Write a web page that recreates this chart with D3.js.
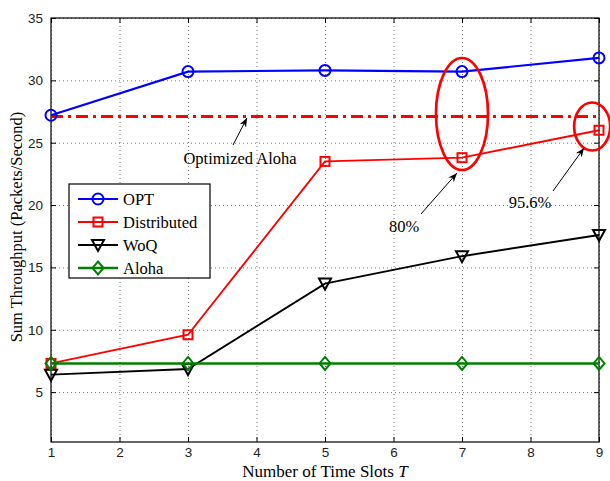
<!DOCTYPE html>
<html>
<head>
<meta charset="utf-8">
<script src="https://cdn.jsdelivr.net/npm/d3@7"></script>
<style>
  body { margin: 0; background: #fff; }
  .tick text { font-family: "Liberation Sans", Arial, sans-serif; font-size: 13.5px; fill: #222; }
  .grid line { stroke: #555; stroke-dasharray: 1,3; stroke-width: 0.8; }
  .grid path { display: none; }
</style>
</head>
<body>
<script>
// data
var slots       = [1, 3, 5, 7, 9];
var opt         = [27.2, 30.7, 30.8, 30.7, 31.8];
var distributed = [7.3, 9.6, 23.5, 23.8, 26.0];
var woq         = [6.4, 6.85, 13.7, 15.9, 17.6];
var aloha       = [7.3, 7.3, 7.3, 7.3, 7.3];
var optAloha    = 27.1;
var xTicks      = [1, 2, 3, 4, 5, 6, 7, 8, 9];
var yTicks      = [5, 10, 15, 20, 25, 30, 35];

var margin = {left: 51, top: 18, right: 11, bottom: 39};
var width  = 610 - margin.left - margin.right,
    height = 481 - margin.top - margin.bottom;
var serif = "'Liberation Serif', 'Times New Roman', serif";

var x = d3.scaleLinear().domain([1, 9]).range([0, width]);
var y = d3.scaleLinear().domain([1, 35]).range([height, 0]);

var svg = d3.select("body").append("svg")
    .attr("width", 610).attr("height", 481)
  .append("g")
    .attr("transform", "translate(" + margin.left + "," + margin.top + ")");

// grid lines
svg.append("g").attr("class", "grid")
    .call(d3.axisBottom(x).tickValues(xTicks).tickFormat("").tickSize(height));
svg.append("g").attr("class", "grid")
    .call(d3.axisLeft(y).tickValues(yTicks).tickFormat("").tickSize(-width));

// axes (ticks inward, box like matlab)
function styleAxis(g) {
    g.select(".domain").remove();
    g.selectAll(".tick line").attr("stroke", "#000");
}
svg.append("g").attr("transform", "translate(0," + height + ")")
    .call(d3.axisBottom(x).tickValues(xTicks).tickSize(-5).tickPadding(5).tickFormat(d3.format("d")))
    .call(styleAxis);
svg.append("g")
    .call(d3.axisLeft(y).tickValues(yTicks).tickSize(-5).tickPadding(8).tickFormat(d3.format("d")))
    .call(styleAxis);
svg.append("g")
    .call(d3.axisTop(x).tickValues(xTicks).tickSize(-5).tickFormat(""))
    .call(styleAxis);
svg.append("g").attr("transform", "translate(" + width + ",0)")
    .call(d3.axisRight(y).tickValues(yTicks).tickSize(-5).tickFormat(""))
    .call(styleAxis);
svg.append("rect").attr("width", width).attr("height", height)
    .attr("fill", "none").attr("stroke", "#000").attr("stroke-width", 1.2);

// optimized aloha line
svg.append("line")
    .attr("x1", x(1)).attr("x2", x(9))
    .attr("y1", y(optAloha)).attr("y2", y(optAloha))
    .attr("stroke", "#ff0000").attr("stroke-width", 3)
    .attr("stroke-dasharray", "12,5,3,5");

var line = d3.line().x(function(d) { return x(d[0]); }).y(function(d) { return y(d[1]); });

var series = [
    {name: "OPT",         vals: opt,         color: "#0000ff", w: 2.2, marker: "circle"},
    {name: "Distributed", vals: distributed, color: "#ff0000", w: 1.9, marker: "square"},
    {name: "WoQ",         vals: woq,         color: "#000000", w: 1.9, marker: "tri"},
    {name: "Aloha",       vals: aloha,       color: "#008000", w: 2.6, marker: "diamond"}
];

function drawMarker(g, type, cx, cy, color) {
    if (type == "circle") {
        g.append("circle").attr("cx", cx).attr("cy", cy).attr("r", 5.5);
    } else if (type == "square") {
        g.append("rect").attr("x", cx - 4.5).attr("y", cy - 4.5).attr("width", 9).attr("height", 9);
    } else if (type == "tri") {
        g.append("path").attr("d", "M" + (cx - 6) + "," + (cy - 5) + "L" + (cx + 6) + "," + (cy - 5) + "L" + cx + "," + (cy + 6) + "Z");
    } else {
        g.append("path").attr("d", "M" + cx + "," + (cy - 6.5) + "L" + (cx + 5.5) + "," + cy + "L" + cx + "," + (cy + 6.5) + "L" + (cx - 5.5) + "," + cy + "Z");
    }
    g.selectAll("*").attr("fill", "none").attr("stroke", color).attr("stroke-width", 2);
}

series.forEach(function(s) {
    var pts = slots.map(function(t, i) { return [t, s.vals[i]]; });
    svg.append("path").datum(pts)
        .attr("d", line).attr("fill", "none")
        .attr("stroke", s.color).attr("stroke-width", s.w);
    pts.forEach(function(p) {
        drawMarker(svg.append("g"), s.marker, x(p[0]), y(p[1]), s.color);
    });
});

// ellipses
svg.append("ellipse")
    .attr("cx", x(7)).attr("cy", y(27.3))
    .attr("rx", 26).attr("ry", 56)
    .attr("fill", "none").attr("stroke", "#ff0000").attr("stroke-width", 2.7);
svg.append("ellipse")
    .attr("cx", x(8.9)).attr("cy", y(26.3))
    .attr("rx", 18).attr("ry", 24)
    .attr("fill", "none").attr("stroke", "#ff0000").attr("stroke-width", 2.7);

// annotations with arrows
svg.append("defs").append("marker")
    .attr("id", "arrow").attr("viewBox", "0 0 10 10")
    .attr("refX", 10).attr("refY", 5)
    .attr("markerWidth", 9).attr("markerHeight", 9)
    .attr("orient", "auto-start-reverse")
  .append("path").attr("d", "M0,1 L10,5 L0,9 L3,5 Z").attr("fill", "#000");

function annotate(tx, ty, hx, hy, label, lx, ly) {
    svg.append("line")
        .attr("x1", tx - margin.left).attr("y1", ty - margin.top)
        .attr("x2", hx - margin.left).attr("y2", hy - margin.top)
        .attr("stroke", "#000").attr("stroke-width", 1)
        .attr("marker-end", "url(#arrow)");
    svg.append("text")
        .attr("x", lx - margin.left).attr("y", ly - margin.top)
        .style("font-family", serif)
        .style("font-size", "16.5px")
        .attr("text-anchor", "middle")
        .text(label);
}
annotate(233, 145, 247, 118, "Optimized Aloha", 240, 164);
annotate(421, 214, 457, 173, "80%", 404, 232);
annotate(553, 191, 584, 148, "95.6%", 530, 208);

// legend
var lg = svg.append("g").attr("transform", "translate(" + (69 - margin.left) + "," + (184 - margin.top) + ")");
lg.append("rect").attr("width", 141).attr("height", 94)
    .attr("fill", "#fff").attr("stroke", "#000").attr("stroke-width", 1.2);
series.forEach(function(s, i) {
    var yy = 15 + i * 23;
    lg.append("line").attr("x1", 9).attr("x2", 49).attr("y1", yy).attr("y2", yy)
        .attr("stroke", s.color).attr("stroke-width", s.w);
    drawMarker(lg.append("g"), s.marker, 29, yy, s.color);
    lg.append("text").attr("x", 54).attr("y", yy + 5.5)
        .style("font-family", serif)
        .style("font-size", "16.5px")
        .text(s.name);
});

// axis labels
var xl = svg.append("text")
    .attr("x", width / 2).attr("y", height + 35)
    .attr("text-anchor", "middle")
    .style("font-family", serif)
    .style("font-size", "17px")
    .text("Number of Time Slots ");
xl.append("tspan").style("font-style", "italic").text("T");

svg.append("text")
    .attr("transform", "rotate(-90)")
    .attr("x", -height / 2 + 3).attr("y", -margin.left + 22)
    .attr("text-anchor", "middle")
    .style("font-family", serif)
    .style("font-size", "16.5px")
    .text("Sum Throughput (Packets/Second)");
</script>
</body>
</html>
